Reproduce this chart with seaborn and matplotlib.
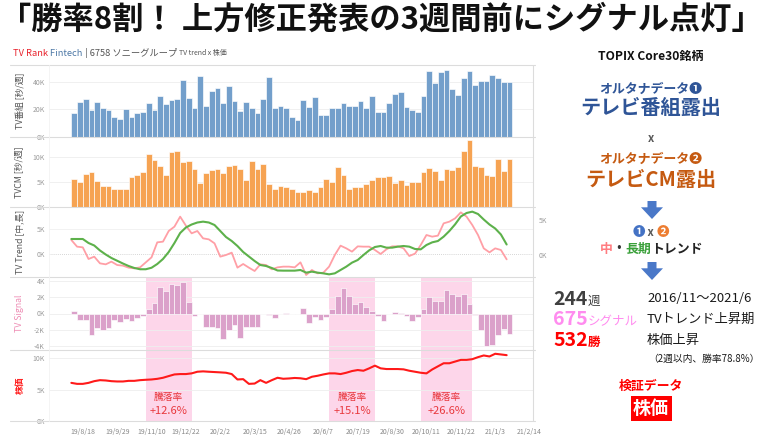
import numpy as np
import pandas as pd
import matplotlib
matplotlib.use("Agg")
import matplotlib.pyplot as plt
from matplotlib.patches import Polygon, Rectangle
from matplotlib.lines import Line2D
import seaborn as sns

# ----------------- data (weekly, from 2019-08-04) -----------------
START = "2019-08-04"

tv_program = [17.2, 25.5, 27.2, 19.2, 25.0, 20.8, 19.4, 14.8, 12.8, 19.9,
              14.8, 17.2, 18.2, 24.7, 19.2, 29.3, 23.8, 26.4, 27.4, 41.2,
              27.9, 20.6, 43.9, 22.3, 33.0, 35.2, 24.5, 36.6, 26.2, 18.9,
              25.2, 21.3, 17.0, 27.6, 43.4, 20.6, 22.3, 20.6, 14.3, 12.1,
              26.7, 21.8, 29.1, 15.8, 15.8, 20.8, 20.8, 24.7, 22.5, 22.1,
              26.2, 21.1, 29.6, 18.4, 18.4, 24.2, 31.0, 32.7, 21.8, 19.2,
              17.9, 29.8, 48.0, 39.3, 47.3, 48.7, 34.7, 30.3, 42.9, 47.5,
              37.8, 40.2, 40.2, 44.8, 42.4, 40.0, 39.5]

tv_cm = [5.5, 4.9, 6.5, 6.9, 5.1, 4.1, 4.1, 3.5, 3.5, 3.5,
         5.9, 6.3, 6.9, 10.5, 9.3, 8.1, 6.3, 10.9, 11.1, 8.9,
         9.1, 7.6, 4.7, 6.8, 7.3, 7.6, 6.8, 8.1, 8.4, 7.5,
         5.3, 9.1, 7.5, 8.5, 4.6, 3.5, 4.1, 3.9, 3.5, 2.9,
         2.9, 3.4, 2.9, 3.9, 5.6, 4.9, 7.9, 6.3, 3.5, 3.9,
         3.9, 4.6, 5.3, 5.9, 5.9, 6.1, 4.7, 5.3, 4.3, 5.0,
         4.9, 7.0, 7.7, 7.2, 5.4, 7.5, 7.3, 7.9, 11.2, 13.4,
         8.2, 8.0, 6.3, 6.1, 9.6, 7.2, 9.6]

trend_mid = [2.8, 1.47, 1.33, -1.0, -0.53, -1.87, -2.07, -1.53, -2.2, -2.33,
             -2.73, -2.87, -2.67, -1.67, -0.67, 2.33, 2.47, 4.6, 5.47, 7.47,
             5.67, 4.13, 4.6, 3.13, 2.93, 2.13, -0.53, -0.2, 0.27, -2.73,
             -2.0, -2.73, -3.4, -2.07, -2.2, -3.07, -2.67, -2.53, -2.53, -2.67,
             -1.67, -4.2, -3.2, -3.87, -3.73, -2.53, -0.2, 1.67, 1.13, 0.47,
             1.53, 1.47, 1.47, 0.8, 0.0, 0.93, 1.53, 1.53, 1.13, -0.4,
             0.07, 1.8, 3.8, 3.47, 3.67, 6.13, 6.47, 7.13, 8.33, 7.47,
             5.8, 3.8, 1.13, 0.33, 1.13, 0.8, -1.07]

trend_long = [3.0, 3.0, 3.0, 2.2, 1.7, 0.7, -0.1, -0.8, -1.35, -1.9,
              -2.4, -2.8, -3.05, -3.05, -2.75, -2.0, -1.0, 0.4, 2.2, 4.2,
              5.3, 5.9, 6.3, 6.47, 6.3, 5.8, 4.6, 3.4, 2.6, 1.6,
              0.4, -0.5, -1.4, -2.2, -2.4, -2.8, -3.3, -3.33, -3.33, -3.33,
              -3.2, -3.73, -3.53, -3.73, -3.87, -4.07, -3.87, -3.2, -2.53, -1.73,
              -1.2, -0.2, 0.73, 1.4, 1.6, 1.27, 1.27, 1.47, 1.6, 1.47,
              1.0, 0.93, 1.8, 2.33, 2.6, 3.47, 4.6, 5.93, 7.5, 8.2,
              8.47, 8.0, 6.9, 5.9, 5.1, 3.9, 1.9]

tv_signal = [0.29, -0.82, -0.82, -2.6, -1.77, -2.06, -1.77, -0.82, -1.03, -0.62,
             -0.9, -0.53, -0.29, 0.53, 1.32, 3.3, 2.76, 3.58, 3.5, 3.9,
             1.44, -0.29, 0.0, -1.65, -1.65, -1.77, -3.17, -2.06, -1.44, -2.96,
             -1.65, -1.65, -1.65, -0.04, -0.2, -0.53, -0.12, 0.12, 0.0, -0.12,
             0.7, -1.15, -0.41, -0.74, -0.41, 0.53, 2.18, 3.17, 2.18, 1.11,
             1.44, 0.74, 0.29, -0.29, -0.95, 0.0, 0.2, 0.12, -0.29, -0.95,
             -0.41, 0.53, 2.06, 1.52, 1.52, 2.88, 2.35, 2.18, 2.35, 1.23,
             -0.2, -2.06, -4.03, -3.9, -2.6, -1.85, -2.47]

stock_price = [6.07, 5.91, 5.91, 6.07, 6.34, 6.50, 6.45, 6.34, 6.29, 6.29,
               6.39, 6.39, 6.50, 6.56, 6.61, 6.71, 6.88, 7.15, 7.41, 7.47,
               7.47, 7.58, 7.84, 7.90, 7.84, 7.79, 7.74, 7.68, 7.47, 6.61,
               6.66, 5.91, 5.96, 6.50, 6.07, 6.50, 6.88, 6.72, 6.77, 6.85,
               6.80, 6.66, 7.04, 7.20, 7.41, 7.58, 7.58, 7.47, 7.68, 7.95,
               8.11, 8.00, 8.38, 8.81, 8.38, 8.27, 8.27, 8.27, 8.22, 8.00,
               7.84, 7.68, 7.58, 8.20, 8.70, 9.19, 9.19, 9.46, 9.73, 9.73,
               9.84, 10.16, 10.43, 10.27, 10.70, 10.59, 10.48]

tick_labels = ["19/8/18", "19/9/29", "19/11/10", "19/12/22", "20/2/2", "20/3/15", "20/4/26",
               "20/6/7", "20/7/19", "20/8/30", "20/10/11", "20/11/22", "21/1/3", "21/2/14"]

# signal periods (first / last week index) and the price change in them
band_first = [13, 45, 61]
band_last = [20, 52, 69]
band_returns = ["+12.6%", "+15.1%", "+26.6%"]

df = pd.DataFrame({"tv": tv_program, "cm": tv_cm, "mid": trend_mid,
                   "long": trend_long, "signal": tv_signal, "price": stock_price})
df["week"] = np.arange(len(df))
df["centre"] = df["week"] + 0.5

start = pd.Timestamp(START)
tick_pos = [(pd.to_datetime(t, format="%y/%m/%d") - start).days / 7 for t in tick_labels]

# ----------------- layout helpers -----------------
W, H = 768, 437

def fx(px):
    return px / W

def fy(py):
    return 1 - py / H

sns.set_theme(style="white")
plt.rcParams["font.family"] = ["Noto Sans CJK JP", "DejaVu Sans"]

fig = plt.figure(figsize=(7.68, 4.37), dpi=100)
renderer = fig.canvas.get_renderer()

GRAY = "#9a9a9a"
panels = [(65, 137), (137, 207), (207, 277), (277, 350), (350, 421)]
axes = []
for top, bot in panels:
    ax = fig.add_axes([fx(49), fy(bot), fx(533) - fx(49), (bot - top) / H])
    ax.set_facecolor("none")
    for s in ax.spines.values():
        s.set_visible(False)
    axes.append(ax)
ax1, ax2, ax3, ax4, ax5 = axes

def bars(ax, col, color):
    sns.barplot(data=df, x="centre", y=col, native_scale=True, width=1, orient="x",
                color=color, saturation=1, errorbar=None, edgecolor="white",
                linewidth=0.45, ax=ax)

def yticks(ax, vals, labels, side="left"):
    ax.set_yticks(vals)
    ax.set_yticklabels(labels)
    ax.tick_params(axis="y", length=0, labelsize=5, labelcolor=GRAY, pad=3)
    for v in vals:
        ax.axhline(v, color="#eeeeee", lw=0.6, zorder=0)

# --- TV programme exposure
bars(ax1, "tv", "#739fcb")
ax1.set_ylim(0, 52)
yticks(ax1, [0, 20, 40], ["0K", "20K", "40K"])

# --- TV CM exposure
bars(ax2, "cm", "#f6a352")
ax2.set_ylim(0, 14)
yticks(ax2, [0, 5, 10], ["0K", "5K", "10K"])

# --- trends
ax3.axhline(0, color="#c8c8c8", lw=0.6, ls=(0, (1, 1.5)), zorder=0)
sns.lineplot(data=df, x="week", y="mid", color="#ff9fa6", linewidth=1.3, ax=ax3)
sns.lineplot(data=df, x="week", y="long", color="#5db14b", linewidth=1.5, ax=ax3)
ax3.set_ylim(-4.6, 9.4)
ax3.set_yticks([0, 5])
ax3.set_yticklabels(["0K", "5K"])
ax3.tick_params(axis="y", length=0, labelsize=5, labelcolor=GRAY, pad=3)
ax3.axhline(5, color="#f0f0f0", lw=0.6, zorder=0)
ax3r = ax3.twinx()
ax3r.set_ylim(-3.14, 6.86)
ax3r.set_yticks([0, 5])
ax3r.set_yticklabels(["0K", "5K"])
ax3r.tick_params(axis="y", length=0, labelsize=5, labelcolor=GRAY, pad=4)
for s in ax3r.spines.values():
    s.set_visible(False)

# --- signal
for a, b in zip(band_first, band_last):
    ax4.axvspan(a, b + 1, color="#fdd6ea", lw=0, zorder=0)
    ax5.axvspan(a, b + 1, color="#fdd6ea", lw=0, zorder=0)
bars(ax4, "signal", "#dba1ca")
ax4.set_ylim(-4.5, 4.5)
yticks(ax4, [-4, -2, 0, 2, 4], ["-4K", "-2K", "0K", "2K", "4K"])

# --- stock price
sns.lineplot(data=df, x="week", y="price", color="#ff1a1a", linewidth=1.5, ax=ax5)
ax5.set_ylim(0, 11.3)
yticks(ax5, [0, 5, 10], ["0K", "5K", "10K"])
for a, b, r in zip(band_first, band_last, band_returns):
    xc = (a + b + 1) / 2
    ax5.text(xc, 3.9, "騰落率", ha="center", va="center", fontsize=7, color="#e8383d")
    ax5.text(xc, 1.55, r, ha="center", va="center", fontsize=8, color="#e8383d")

for ax in axes:
    ax.set_xlim(-3.9, 80.6)
    ax.set_xlabel("")
    ax.set_ylabel("")
    ax.set_xticks(tick_pos)
    ax.tick_params(axis="x", length=0, labelbottom=False)
ax5.set_xticklabels(tick_labels)
ax5.tick_params(axis="x", labelbottom=True, labelsize=5, labelcolor="#888888", pad=5)

# panel titles
ylabels = [("TV番組 [秒/週]", "#555555", "normal"), ("TVCM [秒/週]", "#555555", "normal"),
           ("TV Trend [中,長]", "#555555", "normal"), ("TV Signal", "#ee8cb4", "normal"),
           ("株価", "#ff2020", "bold")]
for (top, bot), (lab, c, w) in zip(panels, ylabels):
    fig.text(fx(20), fy((top + bot) / 2), lab, rotation=90, ha="center", va="center",
             fontsize=6.3, color=c, fontweight=w)

# separators
for py in [65, 137, 207, 277, 350, 421]:
    fig.add_artist(Line2D([fx(10), fx(535)], [fy(py), fy(py)], color="#dcdcdc", lw=0.8))
fig.add_artist(Line2D([fx(533), fx(533)], [fy(65), fy(421)], color="#dcdcdc", lw=0.8))
fig.add_artist(Line2D([fx(49), fx(49)], [fy(65), fy(421)], color="#f2f2f2", lw=0.6))

# ----------------- texts -----------------
def rich(x, y, parts, ha="center", va="center"):
    texts, widths = [], []
    for s, kw in parts:
        t = fig.text(0, y, s, va=va, **kw)
        widths.append(t.get_window_extent(renderer).width / fig.bbox.width)
        texts.append(t)
    x0 = x - sum(widths) / 2 if ha == "center" else x
    for t, w in zip(texts, widths):
        t.set_x(x0)
        x0 += w

fig.text(0.497, fy(20), "「勝率8割！ 上方修正発表の3週間前にシグナル点灯」", ha="center", va="center",
         fontsize=22.5, fontweight="bold", color="#111111")

rich(fx(13), fy(53), [("TV Rank ", dict(fontsize=6.7, color="#e8202a")),
                      ("Fintech ", dict(fontsize=6.7, color="#4e79a7")),
                      ("| 6758 ソニーグループ ", dict(fontsize=6.7, color="#555555")),
                      ("TV trend x 株価", dict(fontsize=5, color="#555555"))], ha="left")

CX = fx(651)
BLUE, ORANGE = "#2f5597", "#c55a11"
fig.text(CX, fy(56), "TOPIX Core30銘柄", ha="center", va="center", fontsize=8.7,
         fontweight="bold", color="#111111")
fig.text(CX, fy(89), "オルタナデータ❶", ha="center", va="center", fontsize=9.3,
         fontweight="bold", color=BLUE)
fig.text(CX, fy(108), "テレビ番組露出", ha="center", va="center", fontsize=14.5,
         fontweight="bold", color=BLUE)
fig.text(CX, fy(138), "x", ha="center", va="center", fontsize=8, fontweight="bold", color="#595959")
fig.text(CX, fy(159), "オルタナデータ❷", ha="center", va="center", fontsize=9.3,
         fontweight="bold", color=ORANGE)
fig.text(CX, fy(180), "テレビCM露出", ha="center", va="center", fontsize=14.5,
         fontweight="bold", color=ORANGE)

def down_arrow(top, bottom, xc=652):
    sh, hw, neck = 4.5, 11, top + (bottom - top) * 0.35
    pts = [(xc - sh, top), (xc + sh, top), (xc + sh, neck), (xc + hw, neck),
           (xc, bottom), (xc - hw, neck), (xc - sh, neck)]
    fig.add_artist(Polygon([(fx(a), fy(b)) for a, b in pts], closed=True,
                           transform=fig.transFigure, color="#4a78c8", lw=0))

down_arrow(201, 219)
rich(CX, fy(233), [("❶", dict(fontsize=9, color="#4472c4", fontweight="bold")),
                   (" x ", dict(fontsize=8, color="#595959", fontweight="bold")),
                   ("❷", dict(fontsize=9, color="#ed7d31", fontweight="bold"))])
rich(CX, fy(249), [("中", dict(fontsize=9.3, color="#ff7c80", fontweight="bold")),
                   ("・", dict(fontsize=9.3, color="#333333", fontweight="bold")),
                   ("長期", dict(fontsize=9.3, color="#3aa03a", fontweight="bold")),
                   ("トレンド", dict(fontsize=9.3, color="#222222", fontweight="bold"))])
down_arrow(262, 280)

rich(fx(553), fy(305), [("244", dict(fontsize=14, color="#404040", fontweight="bold")),
                        ("週", dict(fontsize=9, color="#404040"))], ha="left", va="baseline")
rich(fx(553), fy(325), [("675", dict(fontsize=14, color="#ff8cef", fontweight="bold")),
                        ("シグナル", dict(fontsize=9, color="#ff8cef"))], ha="left", va="baseline")
rich(fx(553), fy(346), [("532", dict(fontsize=14, color="#ff0000", fontweight="bold")),
                        ("勝", dict(fontsize=9, color="#ff0000", fontweight="bold"))], ha="left", va="baseline")

for py, s in [(299, "2016/11〜2021/6"), (319, "TVトレンド上昇期"), (340, "株価上昇")]:
    fig.text(fx(647), fy(py), s, ha="left", va="center", fontsize=9.5, color="#1a1a1a")
fig.text(fx(648), fy(359), "（2週以内、勝率78.8%）", ha="left", va="center", fontsize=7, color="#1a1a1a")

fig.text(CX, fy(386), "検証データ", ha="center", va="center", fontsize=9.3,
         fontweight="bold", color="#ff0000")
fig.add_artist(Rectangle((fx(631), fy(421)), fx(672) - fx(631), fy(396) - fy(421),
                         transform=fig.transFigure, color="#ff0000", lw=0))
fig.text(CX, fy(408.5), "株価", ha="center", va="center", fontsize=13,
         fontweight="bold", color="white")

fig.savefig("out.png", dpi=100)
